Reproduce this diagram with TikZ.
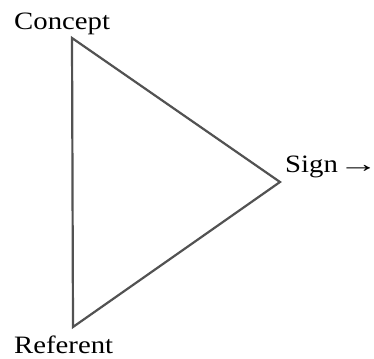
\documentclass[tikz,border=0pt]{standalone}
\usepackage{fontspec}
\usepackage{graphicx}
\setmainfont{Liberation Serif}[FakeStretch=1.15]
\newfontfamily\arrowfont{Liberation Serif}
\begin{document}
\begin{tikzpicture}[x=1pt,y=-1pt]
\useasboundingbox (0,0) rectangle (374,358);
\tikzset{lbl/.style={inner sep=0pt,anchor=base west,font=\fontsize{25}{30}\selectfont},
         side/.style={draw=black!68,line width=2.2pt,line join=miter}}
\coordinate (C) at (72,38);
\coordinate (R) at (73,327);
\coordinate (S) at (280,182);
\draw[side] (C) -- (S) -- (R) -- cycle;
\node[lbl] (concept) at (14,30) {Concept};
\node[lbl] (sign) at (285,172) {Sign};
\node[lbl,font=\arrowfont\fontsize{25}{30}\selectfont] (arrow) at (sign.base east) {\makebox[30pt][l]{\scalebox{1.6}[1]{→}}};
\node[lbl] (referent) at (14,353) {Referent};
\end{tikzpicture}
\end{document}
